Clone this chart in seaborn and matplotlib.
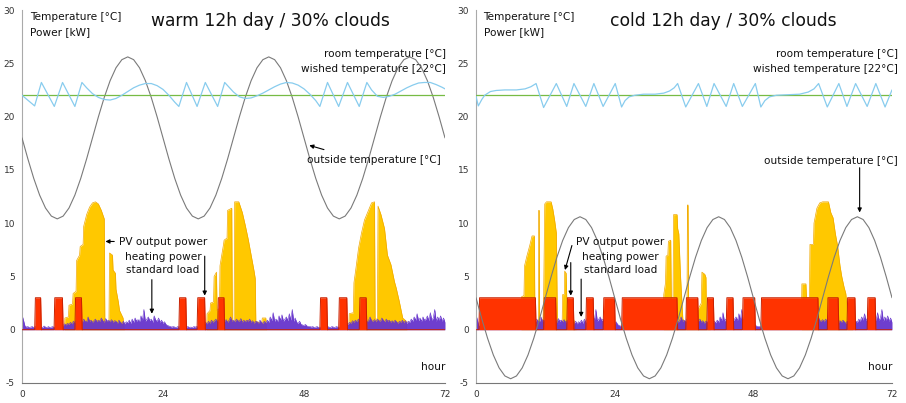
import numpy as np
import pandas as pd
import matplotlib
matplotlib.use("Agg")
import matplotlib.pyplot as plt
import seaborn as sns

# ---------------- data ----------------
hours = list(range(0, 73))

outside_warm = [
    18.0, 16.03, 14.2, 12.63, 11.42, 10.66, 10.4, 10.66, 11.42, 12.63, 14.2, 16.03,
    18.0, 19.97, 21.8, 23.37, 24.58, 25.34, 25.6, 25.34, 24.58, 23.37, 21.8, 19.97,
    18.0, 16.03, 14.2, 12.63, 11.42, 10.66, 10.4, 10.66, 11.42, 12.63, 14.2, 16.03,
    18.0, 19.97, 21.8, 23.37, 24.58, 25.34, 25.6, 25.34, 24.58, 23.37, 21.8, 19.97,
    18.0, 16.03, 14.2, 12.63, 11.42, 10.66, 10.4, 10.66, 11.42, 12.63, 14.2, 16.03,
    18.0, 19.97, 21.8, 23.37, 24.58, 25.34, 25.6, 25.34, 24.58, 23.37, 21.8, 19.97,
    18.0]

outside_cold = [
    3.0, 1.03, -0.8, -2.37, -3.58, -4.34, -4.6, -4.34, -3.58, -2.37, -0.8, 1.03,
    3.0, 4.97, 6.8, 8.37, 9.58, 10.34, 10.6, 10.34, 9.58, 8.37, 6.8, 4.97,
    3.0, 1.03, -0.8, -2.37, -3.58, -4.34, -4.6, -4.34, -3.58, -2.37, -0.8, 1.03,
    3.0, 4.97, 6.8, 8.37, 9.58, 10.34, 10.6, 10.34, 9.58, 8.37, 6.8, 4.97,
    3.0, 1.03, -0.8, -2.37, -3.58, -4.34, -4.6, -4.34, -3.58, -2.37, -0.8, 1.03,
    3.0, 4.97, 6.8, 8.37, 9.58, 10.34, 10.6, 10.34, 9.58, 8.37, 6.8, 4.97,
    3.0]

wished_temp = 22.0

room_warm_t = [0, 2.15, 3.3, 5.5, 6.9, 9.0, 10.2,
               11.0, 12.0, 13.0, 14.0, 15.0, 16.0, 17.0, 18.0, 19.0, 20.0, 21.0, 22.0, 23.0, 24.0, 25.0, 26.0,
               26.7, 28.0, 29.8, 31.2, 33.3, 34.5, 35.0,
               36.0, 37.0, 38.0, 39.0, 40.0, 41.0, 42.0, 43.0, 44.0, 45.0, 46.0, 47.0, 48.0, 49.0, 50.0,
               50.7, 52.0, 53.9, 55.4, 57.4, 58.7,
               59.5, 60.5, 61.5, 62.5, 63.5, 64.5, 65.5, 66.5, 67.5, 68.5, 69.5, 70.5, 71.5, 72.0]
room_warm_v = [22.0, 21.0, 23.2, 20.95, 23.2, 20.95, 23.2,
               22.7, 22.15, 21.8, 21.6, 21.55, 21.7, 22.0, 22.35, 22.7, 22.95, 23.1, 23.1, 22.9, 22.55, 22.0, 21.35,
               20.95, 23.2, 20.95, 23.2, 20.95, 23.2, 22.9,
               22.3, 21.85, 21.7, 21.75, 21.95, 22.2, 22.5, 22.8, 23.05, 23.2, 23.15, 22.95, 22.6, 22.1, 21.5,
               20.95, 23.2, 20.95, 23.2, 20.95, 23.2,
               22.5, 21.9, 21.8, 21.9, 22.1, 22.4, 22.7, 22.95, 23.15, 23.2, 23.2, 23.0, 22.75, 22.6]

room_cold_t = [0, 0.4, 1.0, 1.5, 2.5, 3.5, 5.0, 7.0, 8.5, 9.5, 10.4,
               11.7, 13.9, 15.7, 16.95, 19.0, 20.4, 22.0, 24.1, 25.2,
               25.8, 26.5, 27.5, 29.0, 31.0, 32.5, 33.5, 34.3, 34.9,
               36.3, 38.5, 39.95, 41.2, 43.3, 44.6, 46.1, 48.35, 49.3,
               50.0, 50.8, 52.0, 54.0, 56.0, 57.5, 58.5, 59.3,
               60.8, 62.8, 64.2, 65.7, 67.7, 69.2, 70.8, 72.0]
room_cold_v = [21.9, 21.0, 21.6, 22.0, 22.35, 22.45, 22.5, 22.5, 22.6, 22.8, 23.1,
               20.85, 23.1, 20.95, 23.1, 20.95, 23.1, 20.95, 23.1, 20.9,
               21.5, 21.85, 22.0, 22.1, 22.1, 22.2, 22.4, 22.7, 23.1,
               20.9, 23.1, 20.95, 23.1, 20.95, 23.1, 20.95, 23.1, 20.9,
               21.5, 21.85, 22.0, 22.05, 22.1, 22.3, 22.6, 23.1,
               20.9, 23.1, 20.95, 23.1, 20.95, 23.1, 20.9, 22.5]

pv_warm_t = [7.2, 7.3, 7.9, 8.0, 8.6, 8.7, 9.2, 9.3, 9.8, 9.9, 10.4, 10.5, 11.0, 11.5, 12.0, 12.5, 13.0, 13.5, 14.0,
             14.1, 14.8, 14.9, 15.4, 15.5, 15.9, 16.0, 16.4, 16.6, 17.2, 17.4,
             31.4, 31.5, 32.0, 32.1, 32.6, 32.7, 33.1, 33.2, 33.6, 33.7, 34.3, 34.4, 34.9, 35.0, 35.7, 35.8, 36.1,
             36.2, 36.9, 37.5, 38.0, 38.5, 39.0, 39.5, 39.7, 39.8, 40.8, 40.9, 41.5, 41.6,
             55.6, 55.7, 56.4, 56.5, 56.8, 57.3, 57.8, 58.3, 58.9, 59.5, 60.0, 60.1, 60.5, 60.6, 61.1, 61.7,
             62.2, 62.8, 63.4, 63.7, 64.2, 64.8, 65.4, 65.5]
pv_warm_v = [0, 1.1, 1.2, 2.3, 2.4, 3.4, 3.6, 6.5, 7.0, 7.8, 8.0, 9.7, 10.8, 11.5, 11.9, 12.0, 11.8, 11.2, 10.4,
             0.8, 0.8, 7.2, 7.0, 5.6, 5.3, 3.8, 2.6, 1.8, 1.1, 0,
             0, 1.5, 1.8, 2.5, 2.6, 5.0, 5.4, 1.8, 2.0, 6.0, 8.0, 8.4, 8.6, 11.2, 11.4, 0.8, 0.8,
             12.0, 12.0, 11.0, 9.8, 8.5, 7.0, 5.5, 4.8, 0.8, 0.6, 1.1, 1.1, 0,
             0, 1.5, 1.6, 4.4, 5.6, 7.7, 9.1, 10.3, 11.1, 11.9, 12.0, 1.0, 1.0, 11.6, 10.8, 9.5,
             7.0, 6.1, 4.5, 3.9, 2.7, 1.1, 0.8, 0]

pv_cold_t = [7.8, 7.9, 8.3, 8.4, 8.8, 9.3, 9.7, 10.1, 10.2, 10.8, 10.85, 10.95, 11.0, 11.6, 11.7, 11.9, 12.2,
             13.0, 13.3, 13.6, 13.9, 14.1, 14.9, 15.0, 15.3, 15.35, 15.6, 15.7, 16.2, 17.0, 17.3,
             32.4, 32.5, 32.8, 32.9, 33.2, 33.3, 33.7, 33.8, 34.1, 34.2, 34.8, 34.9, 35.1, 35.4, 35.8,
             36.5, 36.6, 36.7, 36.8, 37.5, 38.5, 39.0, 39.1, 39.6, 39.8, 39.9, 40.5,
             56.3, 56.4, 57.1, 57.2, 57.7, 57.8, 58.4, 58.5, 59.0, 59.5, 60.0, 61.0, 61.4, 61.8,
             62.2, 62.6, 63.0, 63.3, 63.7, 64.0, 64.3, 64.7, 65.2]
pv_cold_v = [0, 3.1, 3.2, 6.0, 6.9, 7.9, 8.8, 8.8, 0.8, 0.5, 11.2, 11.2, 0.6, 1.0, 3.0, 11.8, 12.0,
             12.0, 11.3, 10.3, 9.1, 0.4, 0.4, 3.3, 3.3, 5.5, 5.3, 3.0, 2.0, 0.8, 0,
             0, 3.3, 4.4, 6.9, 7.0, 8.3, 8.4, 3.0, 3.0, 10.8, 10.8, 9.5, 9.0, 5.0, 1.0,
             0.5, 11.7, 11.7, 1.5, 1.5, 2.0, 2.5, 5.4, 5.2, 4.9, 0.5, 0,
             0, 4.3, 4.3, 3.0, 3.0, 8.0, 8.0, 10.0, 11.4, 11.9, 12.0, 12.0, 11.0, 10.5,
             9.0, 7.8, 6.0, 5.0, 4.0, 3.4, 1.8, 0.8, 0]

heat_kw = 3.0
heat_warm_on = [2.16, 5.46, 9.0, 26.7, 29.8, 33.3, 50.7, 53.9, 57.4]
heat_warm_off = [3.29, 7.0, 10.24, 28.0, 31.2, 34.5, 52.0, 55.4, 58.7]
heat_cold_on = [0.5, 11.7, 15.7, 19.0, 22.0, 25.2, 36.3, 39.95, 43.3, 46.1, 49.3, 60.8, 64.2, 67.7]
heat_cold_off = [10.4, 13.9, 16.95, 20.4, 24.1, 34.9, 38.5, 41.2, 44.6, 48.35, 59.3, 62.8, 65.7, 69.2]

# standard load, quarter-hour values 0..72 h
std_load = [
    1.4, 0.9, 0.35, 0.25,  0.3, 0.2, 0.25, 0.3,  0.2, 0.3, 0.25, 0.2,  0.3, 0.25, 0.2, 0.35,
    0.25, 0.2, 0.3, 0.2,  0.25, 0.3, 0.2, 0.25,  0.3, 0.2, 0.35, 0.25,  0.4, 0.55, 0.45, 0.6,
    0.5, 0.7, 0.55, 0.8,  0.65, 0.9, 0.7, 0.85,  0.95, 0.7, 1.0, 0.8,  0.75, 1.2, 0.8, 0.9,
    0.7, 0.85, 1.0, 0.75,  0.9, 0.8, 1.1, 0.85,  0.7, 1.05, 0.8, 0.9,  0.75, 0.95, 0.7, 0.85,
    0.8, 0.6, 0.9, 0.7,  0.6, 0.8, 0.55, 0.75,  0.65, 0.9, 0.6, 1.0,  0.7, 1.1, 0.8, 0.95,
    0.75, 1.3, 0.9, 1.9,  0.8, 1.0, 1.2, 0.85,  1.0, 0.7, 1.3, 0.9,  0.8, 1.1, 0.7, 0.9,
    0.6, 0.75, 0.5, 0.4,  0.35, 0.3, 0.25, 0.3,  0.25, 0.2, 0.3, 0.25,  0.3, 0.2, 0.25, 0.2,
    0.25, 0.3, 0.2, 0.25,  0.2, 0.3, 0.25, 0.3,  0.25, 0.2, 0.3, 0.35,  0.5, 0.7, 0.55, 0.8,
    0.6, 0.9, 0.7, 0.85,  1.0, 0.75, 0.9, 0.7,  0.85, 1.1, 0.8, 0.95,  0.7, 0.9, 1.2, 0.8,
    0.9, 0.75, 1.0, 0.85,  0.8, 1.05, 0.7, 0.9,  0.75, 0.9, 0.8, 1.0,  0.7, 0.85, 0.6, 0.8,
    0.75, 0.6, 0.9, 0.7,  0.6, 0.8, 0.65, 0.9,  0.7, 1.2, 0.85, 1.6,  0.8, 1.0, 0.75, 1.3,
    0.9, 1.4, 0.8, 1.0,  1.2, 0.85, 1.5, 0.9,  1.9, 0.8, 1.1, 0.7,  0.6, 0.8, 0.5, 0.45,
    0.4, 0.5, 0.35, 0.3,  0.3, 0.25, 0.3, 0.2,  0.25, 0.3, 0.2, 0.25,  0.2, 0.3, 0.25, 0.2,
    0.3, 0.25, 0.2, 0.3,  0.25, 0.2, 0.3, 0.25,  0.2, 0.3, 0.25, 0.35,  0.4, 0.6, 0.5, 0.7,
    0.6, 0.85, 0.7, 0.9,  0.75, 1.0, 0.8, 0.9,  1.1, 0.8, 0.95, 0.75,  0.9, 1.2, 0.85, 0.8,
    0.95, 0.75, 1.0, 0.85,  0.8, 1.1, 0.9, 0.75,  1.0, 0.8, 0.9, 0.7,  0.85, 0.7, 0.9, 0.75,
    0.6, 0.8, 0.7, 0.9,  0.65, 0.85, 0.6, 0.8,  0.7, 1.0, 0.8, 1.2,  0.9, 1.5, 0.85, 1.1,
    0.8, 1.2, 0.9, 1.0,  1.3, 0.85, 1.6, 0.9,  1.1, 1.9, 0.8, 1.2,  0.9, 1.3, 0.8, 1.1,
    0.7]

titles = ["warm 12h day / 30% clouds", "cold 12h day / 30% clouds"]
x_ticks = [0, 24, 48, 72]
y_ticks = [-5, 0, 5, 10, 15, 20, 25, 30]

# ---------------- style ----------------
sns.set_style("white")
plt.rcParams["font.family"] = ["DejaVu Sans"]
plt.rcParams["text.color"] = "#111111"

C_PV = "#ffc800"
C_PV_EDGE = "#f0a800"
C_HEAT = "#ff3300"
C_HEAT_EDGE = "#c82000"
C_LOAD = "#6633cc"
C_OUT = "#7a7a7a"
C_ROOM = "#88ccee"
C_WISH = "#77bb44"


def heating_series(on, off, ramp=0.12):
    xs, ys = [0.0], [0.0]
    for a, b in zip(on, off):
        xs += [a, a + ramp, b - ramp, b]
        ys += [0.0, heat_kw, heat_kw, 0.0]
    xs.append(72.0)
    ys.append(0.0)
    return np.array(xs), np.array(ys)


fig = plt.figure(figsize=(9.06, 4.03), dpi=100)
W, H = 906.0, 403.0
ax_l = fig.add_axes([22 / W, 20 / H, (445 - 22) / W, 373 / H])
ax_r = fig.add_axes([476 / W, 20 / H, (892 - 476) / W, 373 / H])

load_t = np.arange(len(std_load)) * 0.25

panels = [
    dict(ax=ax_l, out=outside_warm, rt=room_warm_t, rv=room_warm_v, pt=pv_warm_t, pv=pv_warm_v,
         on=heat_warm_on, off=heat_warm_off, title=titles[0], title_x=22.0, room_x=72.2,
         lab_x=24.0,
         arrows=[((15.7, 8.28), (14.2, 8.28)), ((31.1, 6.9), (31.1, 3.2)), ((22.1, 4.7), (22.1, 1.5))],
         out_text=(48.5, 15.65, "left"), out_arrow=((51.4, 16.9), (48.9, 17.3))),
    dict(ax=ax_r, out=outside_cold, rt=room_cold_t, rv=room_cold_v, pt=pv_cold_t, pv=pv_cold_v,
         on=heat_cold_on, off=heat_cold_off, title=titles[1], title_x=23.2, room_x=73.0,
         lab_x=25.0,
         arrows=[((16.6, 7.9), (15.4, 5.6)), ((16.4, 6.3), (16.4, 3.2)), ((18.2, 4.75), (18.2, 1.2))],
         out_text=(73.0, 15.55, "right"), out_arrow=((66.4, 15.2), (66.4, 11.0))),
]

for p in panels:
    ax = p["ax"]
    # PV output power
    ax.fill_between(p["pt"], p["pv"], 0, color=C_PV, linewidth=0, zorder=1)
    ax.plot(p["pt"], p["pv"], color=C_PV_EDGE, lw=0.5, zorder=1.1)
    # standard load
    ax.fill_between(load_t, std_load, 0, color=C_LOAD, linewidth=0, alpha=0.95, zorder=2)
    ax.plot(load_t, std_load, color=C_LOAD, lw=0.4, zorder=2.1)
    # heating power
    hx, hy = heating_series(p["on"], p["off"])
    ax.fill_between(hx, hy, 0, color=C_HEAT, linewidth=0, zorder=3)
    ax.plot(hx, hy, color=C_HEAT_EDGE, lw=0.7, zorder=3.1)

    # temperatures via seaborn
    sns.lineplot(x=hours, y=p["out"], ax=ax, color=C_OUT, linewidth=0.8, zorder=4,
                 estimator=None, sort=False)
    sns.lineplot(x=[0, 72], y=[wished_temp, wished_temp], ax=ax, color=C_WISH, linewidth=0.9,
                 zorder=5, estimator=None, sort=False)
    sns.lineplot(x=p["rt"], y=p["rv"], ax=ax, color=C_ROOM, linewidth=0.9, zorder=6,
                 estimator=None, sort=False)

    ax.set_xlim(0, 72)
    ax.set_ylim(-5, 30)
    ax.set_xticks(x_ticks)
    ax.set_yticks(y_ticks)
    ax.set_xticklabels([str(v) for v in x_ticks])
    ax.set_yticklabels([str(v) for v in y_ticks])
    ax.tick_params(axis="both", labelsize=6.5, colors="#333333", direction="in", length=4,
                   width=0.6, pad=4)
    ax.tick_params(axis="x", pad=5)
    ax.tick_params(axis="y", length=0, pad=5)
    for s in ["top", "right"]:
        ax.spines[s].set_visible(False)
    ax.spines["left"].set_color("#aaaaaa")
    ax.spines["bottom"].set_color("#777777")
    ax.spines["left"].set_linewidth(0.8)
    ax.spines["bottom"].set_linewidth(0.8)
    ax.set_xlabel("")
    ax.set_ylabel("")
    ax.patch.set_alpha(0)

    fs = 7.6
    ax.text(1.3, 29.05, "Temperature [°C]", fontsize=fs, ha="left", va="baseline")
    ax.text(1.3, 27.65, "Power [kW]", fontsize=fs, ha="left", va="baseline")
    ax.text(p["title_x"], 28.5, p["title"], fontsize=12.3, ha="left", va="baseline")
    ax.text(p["room_x"], 25.6, "room temperature [°C]", fontsize=fs, ha="right", va="baseline")
    ax.text(p["room_x"], 24.2, "wished temperature [22°C]", fontsize=fs, ha="right", va="baseline")
    ax.text(72.0, -3.75, "hour", fontsize=fs, ha="right", va="baseline")

    ax.text(p["lab_x"], 7.97, "PV output power", fontsize=fs, ha="center", va="baseline", zorder=8)
    ax.text(p["lab_x"], 6.56, "heating power", fontsize=fs, ha="center", va="baseline", zorder=8)
    ax.text(p["lab_x"], 5.31, "standard load", fontsize=fs, ha="center", va="baseline", zorder=8)

    ox, oy, oha = p["out_text"]
    ax.text(ox, oy, "outside temperature [°C]", fontsize=fs, ha=oha, va="baseline", zorder=8)

    arrow_kw = dict(arrowstyle="-|>", color="black", lw=0.8, mutation_scale=6,
                    shrinkA=0, shrinkB=0)
    for tail, tip in p["arrows"] + [p["out_arrow"]]:
        ax.annotate("", xy=tip, xytext=tail, arrowprops=arrow_kw, zorder=9,
                    annotation_clip=False)

fig.savefig("out.png", dpi=100)
